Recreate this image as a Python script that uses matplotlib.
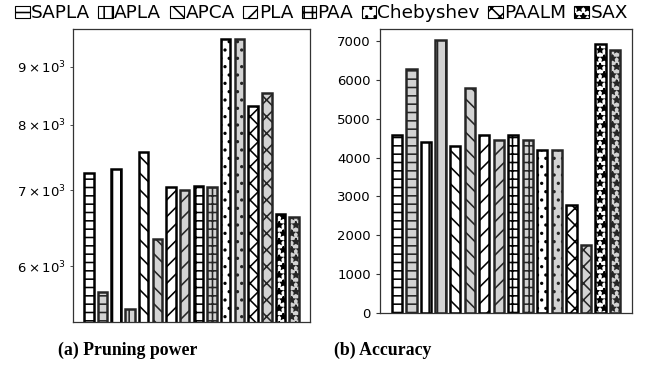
import matplotlib
matplotlib.use('Agg')
import matplotlib.pyplot as plt
from matplotlib.patches import Patch
from matplotlib.ticker import FixedLocator, NullLocator, LogFormatterSciNotation, NullFormatter

methods = ['SAPLA', 'APLA', 'APCA', 'PLA', 'PAA', 'Chebyshev', 'PAALM', 'SAX']
hatches = ['--', '||', '\\\\', '//', '++', '..', 'xx', '**']
pruning_white = [7253, 7319, 7576, 7047, 7067, 9513, 8316, 6676]
pruning_gray = [5700, 5505, 6338, 7005, 7047, 9513, 8538, 6636]
accuracy_white = [4572, 4407, 4304, 4572, 4580, 4193, 2784, 6933]
accuracy_gray = [6281, 7028, 5783, 4451, 4451, 4193, 1745, 6778]
log_ticks = [6000, 7000, 8000, 9000]
acc_ticks = [0, 1000, 2000, 3000, 4000, 5000, 6000, 7000]

plt.rcParams['hatch.linewidth'] = 1.15

W, H = 660, 367
fig = plt.figure(figsize=(W / 100, H / 100), dpi=100)

def px_axes(x0, y0, x1, y1):
    return fig.add_axes([x0 / W, 1 - y1 / H, (x1 - x0) / W, (y1 - y0) / H])

ax1 = px_axes(73, 29, 310, 322)
ax2 = px_axes(380, 29, 632, 313)

bw = 0.7
lw = 1.8
white_edge = 'black'
gray_edge = '#262626'
gray_fill = '#d3d3d3'

def draw(ax, white_vals, gray_vals):
    for i, (wv, gv, h) in enumerate(zip(white_vals, gray_vals, hatches)):
        ax.bar(2 * i, wv, width=bw, color='white', edgecolor=white_edge,
               hatch=h, linewidth=lw, zorder=2)
        ax.bar(2 * i + 1, gv, width=bw, color=gray_fill, edgecolor=gray_edge,
               hatch=h, linewidth=lw, zorder=2)
    ax.set_xlim(-1.16, 16.16)
    ax.set_xticks([])
    for s in ax.spines.values():
        s.set_color('#333333')
        s.set_linewidth(0.9)
    ax.tick_params(axis='y', labelsize=9.5, length=3, width=0.8, color='#333333')

draw(ax1, pruning_white, pruning_gray)
ax1.set_yscale('log')
ax1.set_ylim(5360, 9715)
ax1.yaxis.set_major_locator(NullLocator())
ax1.yaxis.set_major_formatter(NullFormatter())
ax1.yaxis.set_minor_locator(FixedLocator(log_ticks))
ax1.yaxis.set_minor_formatter(LogFormatterSciNotation(labelOnlyBase=False))
ax1.tick_params(axis='y', which='minor', labelsize=9.5, length=2, width=0.6, color='#333333')

draw(ax2, accuracy_white, accuracy_gray)
ax2.set_ylim(0, 7309)
ax2.set_yticks(acc_ticks)

handles = [Patch(facecolor='white', edgecolor='black', hatch=h, linewidth=0.8) for h in hatches]
fig.legend(handles, methods, loc='upper center', bbox_to_anchor=(0.487, 1.008), ncol=8,
           frameon=False, fontsize=13.3, handlelength=0.78, handleheight=0.6,
           handletextpad=0.08, columnspacing=0.45, borderaxespad=0.0)

fig.text(127.5 / W, 1 - 350 / H, '(a) Pruning power', ha='center', va='center',
         fontsize=12.8, fontweight='bold', family='Liberation Serif')
fig.text(382.5 / W, 1 - 350 / H, '(b) Accuracy', ha='center', va='center',
         fontsize=12.8, fontweight='bold', family='Liberation Serif')

fig.savefig('out.png', dpi=100)
